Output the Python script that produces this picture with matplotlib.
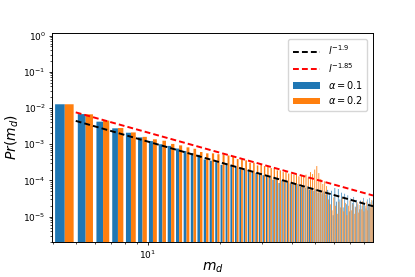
import numpy as np
import matplotlib
matplotlib.use("Agg")
import matplotlib.pyplot as plt

# degree values on the x axis
m_d = list(range(4, 87))

# Pr(m_d), one value per degree
pr_alpha_01 = [
    1.27e-2, 6.8e-3, 4.2e-3, 2.75e-3, 2.08e-3, 1.55e-3, 1.22e-3, 1.0e-3, 9.0e-4, 7.6e-4,
    6.5e-4, 5.7e-4, 5.1e-4, 3.8e-4, 3.5e-4, 3.2e-4, 2.7e-4, 2.95e-4, 2.55e-4, 2.45e-4,
    2.1e-4, 2.0e-4, 1.95e-4, 1.7e-4, 1.62e-4, 1.6e-4, 1.4e-4, 1.35e-4, 1.32e-4, 1.05e-4,
    1.12e-4, 8.5e-5, 1.0e-4, 9.2e-5, 9.5e-5, 8.2e-5, 8.4e-5, 7.8e-5, 8.0e-5, 6.6e-5,
    7.3e-5, 6.2e-5, 6.9e-5, 5.6e-5, 6.3e-5, 5.2e-5, 5.8e-5, 4.6e-5, 5.4e-5, 4.4e-5,
    5.0e-5, 4.1e-5, 5.5e-5, 3.9e-5, 5.2e-5, 1.1e-5, 6.2e-5, 2.6e-5, 5.8e-5, 3.0e-5,
    4.6e-5, 1.8e-5, 4.3e-5, 2.2e-5, 3.9e-5, 1.4e-5, 3.2e-5, 2.4e-5, 3.5e-5, 1.9e-5,
    2.9e-5, 2.2e-5, 1.6e-5, 2.8e-5, 2.0e-5, 3.3e-5, 2.4e-5, 1.7e-5, 3.0e-5, 2.2e-5,
    3.3e-5, 2.5e-5, 2.8e-5,
]
pr_alpha_02 = [
    1.27e-2, 6.7e-3, 4.5e-3, 2.8e-3, 2.12e-3, 1.6e-3, 1.37e-3, 1.25e-3, 1.02e-3, 9.3e-4,
    8.2e-4, 7.5e-4, 6.1e-4, 5.6e-4, 5.6e-4, 5.3e-4, 5.2e-4, 4.9e-4, 4.6e-4, 3.9e-4,
    3.8e-4, 3.6e-4, 3.1e-4, 3.1e-4, 2.6e-4, 2.7e-4, 2.5e-4, 2.4e-4, 2.2e-4, 2.1e-4,
    1.9e-4, 1.9e-4, 1.7e-4, 1.75e-4, 1.55e-4, 1.55e-4, 1.45e-4, 1.5e-4, 1.3e-4, 1.4e-4,
    1.25e-4, 1.45e-4, 1.2e-4, 1.7e-4, 1.5e-4, 2.0e-4, 2.5e-4, 1.6e-4, 1.1e-4, 8.0e-5,
    9.5e-5, 7.0e-5, 3.0e-5, 2.2e-5, 1.5e-5, 3.4e-5, 2.0e-5, 1.2e-5, 2.6e-5, 1.8e-5,
    3.3e-5, 1.4e-5, 2.4e-5, 1.1e-5, 2.0e-5, 2.8e-5, 1.5e-5, 2.2e-5, 1.2e-5, 1.8e-5,
    2.5e-5, 1.3e-5, 2.1e-5, 1.6e-5, 2.7e-5, 1.4e-5, 2.0e-5, 2.6e-5, 1.5e-5, 2.3e-5,
    1.8e-5, 2.9e-5, 2.2e-5,
]

# power-law guide lines: coefficient and exponent
fit_black = (0.094, 1.9)
fit_red = (0.149, 1.85)
fit_range = (5, 87)

fig = plt.figure(figsize=(4.15, 2.77), dpi=100)
ax = fig.add_axes([0.1253, 0.1264, 0.7735, 0.7545])

x = np.array(m_d, dtype=float)
b1 = ax.bar(x + 0.1, pr_alpha_01, width=0.4, align="edge", color="#1f77b4",
            snap=False, linewidth=0, label=r"$\alpha=0.1$")
b2 = ax.bar(x + 0.5, pr_alpha_02, width=0.4, align="edge", color="#ff7f0e",
            snap=False, linewidth=0, label=r"$\alpha=0.2$")

xl = np.linspace(fit_range[0], fit_range[1], 200)
(l1,) = ax.plot(xl, fit_black[0] * xl ** (-fit_black[1]), color="k", linestyle=(0, (3, 1.6)),
                linewidth=1.4, label=r"$l^{-1.9}$")
(l2,) = ax.plot(xl, fit_red[0] * xl ** (-fit_red[1]), color="r", linestyle=(0, (3, 1.6)),
                linewidth=1.4, label=r"$l^{-1.85}$")

ax.set_xscale("log")
ax.set_yscale("log")
ax.set_xlim(3.98, 87)
ax.set_ylim(2.0e-6, 1.18)

ax.tick_params(labelsize=6.5, length=2.5, width=0.6, pad=2)
ax.tick_params(which="minor", length=1.5, width=0.5)
for sp in ax.spines.values():
    sp.set_linewidth(0.7)

ax.set_xlabel(r"$m_d$", fontsize=10, labelpad=0)
ax.set_ylabel(r"$Pr(m_d)$", fontsize=10, labelpad=2)

ax.legend(handles=[l1, l2, b1, b2], loc="upper right", fontsize=7,
          handlelength=2.8, borderpad=0.45, labelspacing=0.4, borderaxespad=0.6)

fig.savefig("out.png", dpi=100)
